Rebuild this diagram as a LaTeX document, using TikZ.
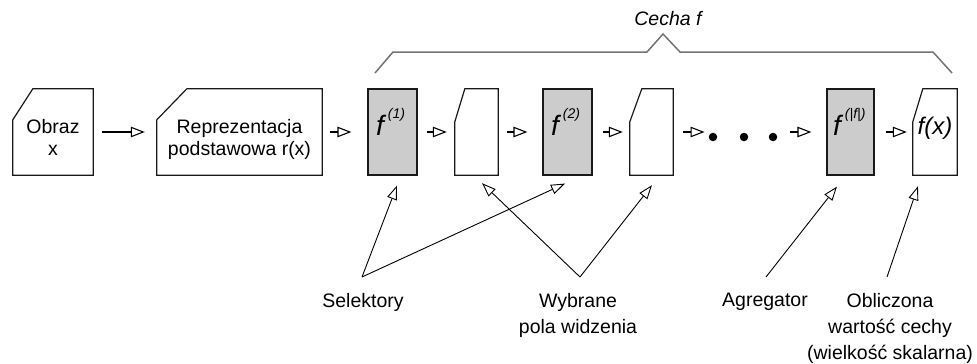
\documentclass[tikz,border=0pt]{standalone}
\usepackage{fontspec}
\setmainfont{Liberation Sans}
\usetikzlibrary{arrows.meta}

% outline of a box whose top-left corner is cut off
\newcommand\cutcorner[3]{%
  \draw[boxline] ([yshift=-#3]#1.north west) -- ([xshift=#2]#1.north west)
    -- (#1.north east) -- (#1.south east) -- (#1.south west) -- cycle;}
% italic f with a raised index
\newcommand\findex[1]{{\fontsize{28}{28}\selectfont\itshape f}\hspace{4pt}%
  \raisebox{17pt}{\fontsize{14}{14}\selectfont\itshape #1}}

\begin{document}
\begin{tikzpicture}[x=1pt,y=-1pt,
  cell/.style={inner sep=0pt, minimum width=#1, minimum height=86pt},
  boxline/.style={draw=black!90, line width=1.2pt, line join=miter},
  grayfill/.style={draw=black!90, fill=black!20, line width=1.2pt},
  txt/.style={font=\fontsize{19.5}{22}\selectfont, align=center, inner sep=0pt},
  lbl/.style={font=\fontsize{19.5}{26}\selectfont, align=center, inner sep=0pt, anchor=north},
  flow/.style={-{Triangle[open,length=14pt,width=10.5pt]}, line width=1.1pt},
  ptr/.style={-{Triangle[open,length=14pt,width=10pt]}, line width=0.9pt},
  bracket/.style={draw=black!55, line width=1.5pt, line join=miter},
  ellipsisdot/.style={circle, fill=black, inner sep=0pt, minimum size=8.5pt}
]
\useasboundingbox (0,0) rectangle (977,364);

% processing chain
\node[cell=80pt]  (obraz) at (53,132) {};
\node[cell=165pt] (repr)  at (239.5,132) {};
\node[cell=49pt, grayfill] (f1) at (392.5,132) {};
\node[cell=43pt]  (b1)    at (476.5,132) {};
\node[cell=49pt, grayfill] (f2) at (567.5,132) {};
\node[cell=43pt]  (b2)    at (651.5,132) {};
\node[ellipsisdot] (d1) at (713,137) {};
\node[ellipsisdot] (d2) at (744,137) {};
\node[ellipsisdot] (d3) at (773,137) {};
\node[cell=47pt, grayfill] (fk) at (850.5,132) {};
\node[cell=44pt]  (fx)    at (935,132) {};

\cutcorner{obraz}{20pt}{31pt}
\cutcorner{repr}{30pt}{31pt}
\cutcorner{b1}{10pt}{33pt}
\cutcorner{b2}{12pt}{33pt}
\cutcorner{fx}{10pt}{33pt}

% box contents
\node[txt] (obrazT) at (53,137) {Obraz\\x};
\node[txt] (reprT)  at (239.5,139) {Reprezentacja\\podstawowa r(x)};
\node[inner sep=0pt, anchor=base west] (f1T) at (376,135) {\findex{(1)}};
\node[inner sep=0pt, anchor=base west] (f2T) at (551,135) {\findex{(2)}};
\node[inner sep=0pt, anchor=base west] (fkT) at (833,135) {\findex{(|f|)}};
\node[inner sep=0pt, font=\fontsize{24}{24}\selectfont\itshape] (fxT) at (935,128) {f(x)};

% flow arrows
\draw[flow, shorten <=9pt,  shorten >=12pt] (obraz) -- (repr);
\draw[flow, shorten <=8pt,  shorten >=16pt] (repr) -- (f1);
\draw[flow, shorten <=9pt,  shorten >=8pt]  (f1) -- (b1);
\draw[flow, shorten <=9pt,  shorten >=15pt] (b1) -- (f2);
\draw[flow, shorten <=10pt, shorten >=7pt]  (f2) -- (b2);
\draw[flow, shorten <=10pt, shorten >=4pt]  (b2.east) -- (b2.east -| d1.west);
\draw[flow, shorten <=13pt, shorten >=15pt] (d3.east |- fk.west) -- (fk.west);
\draw[flow, shorten <=11pt, shorten >=6pt]  (fk) -- (fx);

% bracket over the feature stages
\draw[bracket] (375,73) -- (393,52) -- (647,52) -- (663,34) -- (680,52)
  -- (933,52) -- (952,73);
\node[inner sep=0pt, anchor=base, font=\fontsize{19.5}{22}\selectfont\itshape] (cecha) at (668,25) {Cecha f};

% captions below
\node[lbl] (sel) at (363,293) {Selektory};
\node[lbl] (wyb) at (578,293) {Wybrane\\pola widzenia};
\node[lbl] (agr) at (765,293) {Agregator};
\node[lbl] (obl) at (890,293) {Obliczona\\wartość cechy\\(wielkość skalarna)};

\coordinate (selA) at (362,277);
\coordinate (wybA) at (580,277);
\coordinate (agrA) at (766,277);
\coordinate (oblA) at (887,277);

\draw[ptr, shorten >=10.7pt] (selA) -- ([xshift=8.3pt]f1.south);
\draw[ptr, shorten >=19.1pt] (selA) -- ([xshift=14.8pt]f2.south);
\draw[ptr, shorten >=11.5pt] (wybA) -- ([xshift=-2.8pt]b1.south);
\draw[ptr, shorten >=12.7pt] (wybA) -- ([xshift=8.3pt]b2.south);
\draw[ptr, shorten >=14pt]   (agrA) -- ([xshift=-4.9pt]fk.south);
\draw[ptr, shorten >=11.6pt] (oblA) -- ([xshift=-13.3pt]fx.south);
\end{tikzpicture}
\end{document}
